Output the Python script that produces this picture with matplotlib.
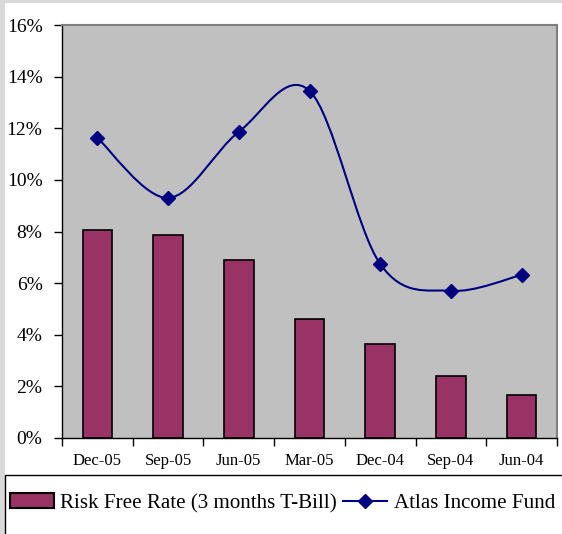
import numpy as np
import matplotlib
matplotlib.use("Agg")
import matplotlib.pyplot as plt
from matplotlib.path import Path
from matplotlib.patches import PathPatch, Rectangle
from matplotlib.lines import Line2D

plt.rcParams['font.family'] = ['Liberation Serif', 'DejaVu Serif']

# data
quarters = ["Dec-05", "Sep-05", "Jun-05", "Mar-05", "Dec-04", "Sep-04", "Jun-04"]
risk_free = [8.06, 7.87, 6.90, 4.61, 3.64, 2.40, 1.67]
atlas_fund = [11.63, 9.30, 11.86, 13.45, 6.74, 5.70, 6.32]

W, H = 562, 534
fig = plt.figure(figsize=(W / 100, H / 100), dpi=100, facecolor="white")

# light grey frame on the left and top
fig.patches.append(Rectangle((0, 0), 5 / W, 1, transform=fig.transFigure,
                             facecolor="#d9d9d9", edgecolor="none", zorder=-1))
fig.patches.append(Rectangle((0, 1 - 3 / H), 1, 3 / H, transform=fig.transFigure,
                             facecolor="#d9d9d9", edgecolor="none", zorder=-1))

ax = fig.add_axes([62 / W, 1 - 438 / H, (557 - 62) / W, (438 - 25) / H])
ax.set_zorder(2)
ax.set_facecolor("#c0c0c0")

x = np.arange(len(quarters))
ax.bar(x, risk_free, width=0.42, color="#993366", edgecolor="black", linewidth=1.2, zorder=2)

# smoothed line like Excel (Catmull-Rom bezier)
y = np.array(atlas_fund)
verts = [(x[0], y[0])]
codes = [Path.MOVETO]
n = len(y)
for i in range(n - 1):
    p0 = (x[max(i - 1, 0)], y[max(i - 1, 0)])
    p1 = (x[i], y[i])
    p2 = (x[i + 1], y[i + 1])
    p3 = (x[min(i + 2, n - 1)], y[min(i + 2, n - 1)])
    c1 = (p1[0] + (p2[0] - p0[0]) / 6, p1[1] + (p2[1] - p0[1]) / 6)
    c2 = (p2[0] - (p3[0] - p1[0]) / 6, p2[1] - (p3[1] - p1[1]) / 6)
    verts += [c1, c2, p2]
    codes += [Path.CURVE4] * 3
ax.add_patch(PathPatch(Path(verts, codes), facecolor="none", edgecolor="#000080",
                       linewidth=1.5, zorder=3))
ax.plot(x, y, linestyle="none", marker="D", markersize=7.5, color="#000080", zorder=4)

ax.set_xlim(-0.5, len(quarters) - 0.5)
ax.set_ylim(0, 16)
ax.set_yticks(np.arange(0, 17, 2))
ax.set_yticklabels([f"{v}%" for v in range(0, 17, 2)], fontsize=14)
ax.set_xticks(x)
ax.set_xticklabels(quarters, fontsize=12)
ax.set_xticks(np.arange(-0.5, len(quarters), 1), minor=True)
ax.tick_params(axis="x", which="major", length=0, pad=11)
ax.tick_params(axis="x", which="minor", length=6, direction="out", width=1)
ax.tick_params(axis="y", length=6, direction="out", width=1, pad=8)

for s in ["top", "right"]:
    ax.spines[s].set_color("#808080")
    ax.spines[s].set_linewidth(1.5)
for s in ["left", "bottom"]:
    ax.spines[s].set_color("black")
    ax.spines[s].set_linewidth(1)

# legend box at bottom, runs past the right edge
fig.patches.append(Rectangle((5 / W, -0.1), 1.2, 0.1 + 1 - 475 / H, transform=fig.transFigure,
                             facecolor="white", edgecolor="black", linewidth=1, zorder=1))
handles = [Rectangle((0, 0), 1, 1, facecolor="#993366", edgecolor="black", linewidth=1.5),
           Line2D([], [], color="#000080", linewidth=1.5, marker="D", markersize=7)]
fig.legend(handles, ["Risk Free Rate (3 months T-Bill)", "Atlas Income Fund"],
           loc="center left", bbox_to_anchor=(10 / W, 1 - 503 / H), ncol=2,
           frameon=False, borderpad=0, borderaxespad=0, fontsize=15.1,
           handlelength=2.1, handleheight=0.75, handletextpad=0.3,
           columnspacing=0.3, numpoints=1)

fig.savefig("out.png", dpi=100, facecolor=fig.get_facecolor())
